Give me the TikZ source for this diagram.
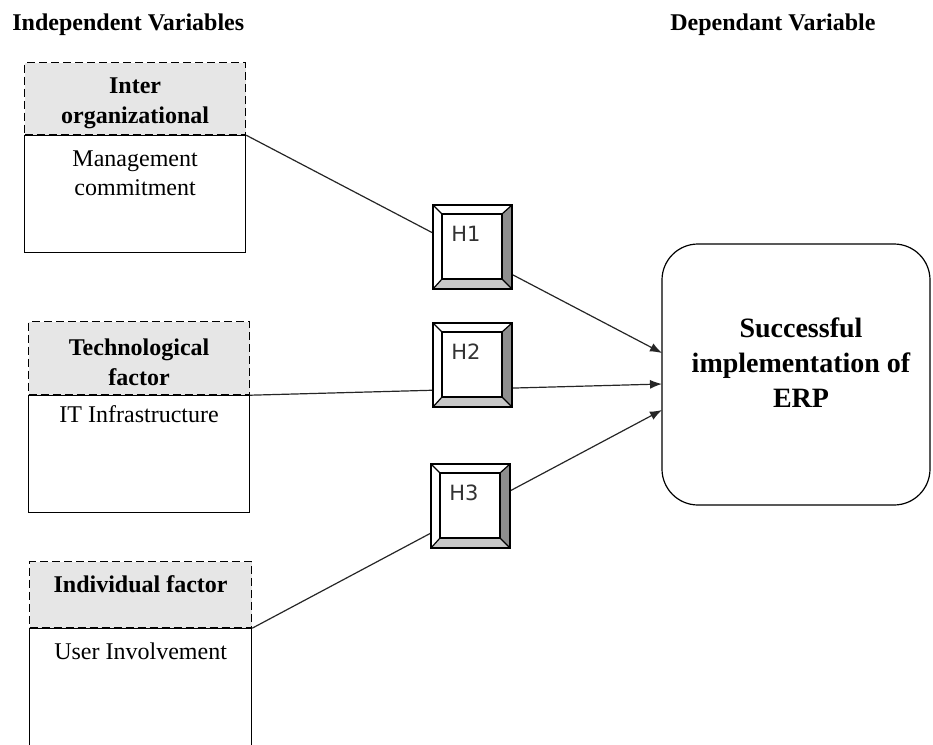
\documentclass[tikz,border=0pt]{standalone}
\usepackage{fontspec}
\setmainfont{Liberation Serif}
\newfontfamily\keyfont{DejaVu Sans}
\usetikzlibrary{positioning,arrows.meta}
\definecolor{headgray}{HTML}{E6E6E6}
\definecolor{keydark}{HTML}{8E8E8E}
\definecolor{keylight}{HTML}{C8C8C8}

\tikzset{
  headbox/.style={draw, line width=0.6pt, dash pattern=on 4pt off 2pt, fill=headgray,
    minimum width=110.5pt, inner sep=0pt, anchor=north west},
  bodybox/.style={draw, line width=0.6pt, fill=white, minimum width=110.5pt,
    minimum height=58.5pt, inner sep=0pt, anchor=north west},
  headtext/.style={font=\fontsize{12}{15}\selectfont\bfseries, align=center, inner sep=0pt},
  bodytext/.style={font=\fontsize{12}{14.5}\selectfont, align=center, inner sep=0pt},
  toptext/.style={font=\fontsize{12}{14.5}\selectfont\bfseries, anchor=base west, inner sep=0pt},
  link/.style={line width=0.6pt, black!85, -{Latex[length=6pt,width=4.5pt]}},
  keyline/.style={line width=0.6pt, black},
  keytext/.style={font=\keyfont\fontsize{10.5}{12}\selectfont, text=black!80, inner sep=0pt}
}

\begin{document}
\begin{tikzpicture}[x=0.5pt, y=-0.5pt]
  \useasboundingbox (0,0) rectangle (933,745);

  \node[toptext] (indep) at (12,30) {Independent Variables};
  \node[toptext] (dep) at (670,30) {Dependant Variable};

  \node[headbox, minimum height=36pt] (head1) at (24,62) {};
  \node[bodybox] (body1) at (head1.south west) {};
  \node[headtext, below=7.5pt of head1.north] (headtext1) {Inter\\organizational};
  \node[bodytext, below=7.5pt of body1.north] (bodytext1) {Management\\commitment};

  \node[headbox, minimum height=36.5pt] (head2) at (28,321) {};
  \node[bodybox] (body2) at (head2.south west) {};
  \node[headtext, below=8.5pt of head2.north] (headtext2) {Technological\\factor};
  \node[bodytext, below=5pt of body2.north] (bodytext2) {IT Infrastructure};

  \node[headbox, minimum width=111pt, minimum height=33pt] (head3) at (29,561) {};
  \node[bodybox, minimum width=111pt] (body3) at (head3.south west) {};
  \node[headtext, below=7pt of head3.north] (headtext3) {Individual factor};
  \node[bodytext, below=7pt of body3.north] (bodytext3) {User Involvement};

  \node[draw, line width=0.6pt, rounded corners=18pt, minimum width=134pt,
    minimum height=130.5pt, inner sep=0pt] (erp) at (796,374.5) {};
  \node[font=\fontsize{14}{17.5}\selectfont\bfseries, align=center, inner sep=0pt]
    (erptext) at (801,363) {Successful\\implementation of\\ERP};

  \coordinate (E1) at (662,353);
  \coordinate (E2) at (662,384);
  \coordinate (E3) at (662,410);
  \draw[link] (head1.south east) -- (E1);
  \draw[link] (head2.south east) -- (E2);
  \draw[link] (head3.south east) -- (E3);

  \foreach \n/\x/\y in {1/433/205, 2/433/323, 3/431/464} {
    \fill[white] (\x,\y) rectangle (\x+79,\y+84);
    \fill[keydark] (\x+79,\y) -- (\x+79,\y+84) -- (\x+69,\y+74) -- (\x+69,\y+9) -- cycle;
    \fill[keylight] (\x,\y+84) -- (\x+79,\y+84) -- (\x+69,\y+74) -- (\x+9,\y+74) -- cycle;
    \draw[keyline] (\x,\y) rectangle (\x+79,\y+84);
    \draw[keyline] (\x+9,\y+9) rectangle (\x+69,\y+74);
    \draw[keyline] (\x,\y) -- (\x+9,\y+9) (\x+79,\y) -- (\x+69,\y+9)
      (\x,\y+84) -- (\x+9,\y+74) (\x+79,\y+84) -- (\x+69,\y+74);
    \node[keytext] (h\n) at (\x+33,\y+29) {H\n};
  }
\end{tikzpicture}
\end{document}
